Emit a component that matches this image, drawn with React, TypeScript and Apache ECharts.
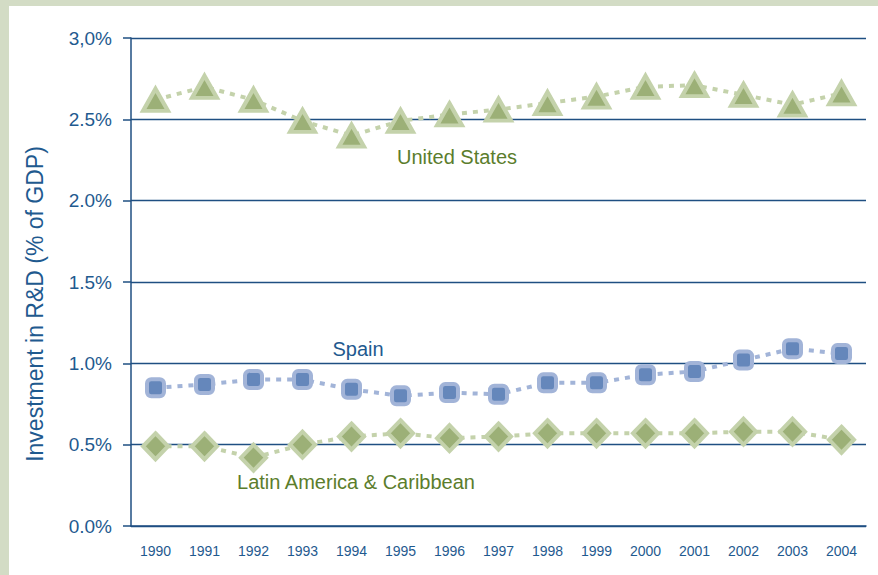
import React, { useEffect, useRef } from "react";
import * as echarts from "echarts";

const years = ["1990","1991","1992","1993","1994","1995","1996","1997","1998","1999","2000","2001","2002","2003","2004"];
const unitedStates = [2.62, 2.70, 2.62, 2.49, 2.40, 2.49, 2.53, 2.56, 2.60, 2.64, 2.70, 2.71, 2.65, 2.59, 2.66];
const spain = [0.85, 0.87, 0.90, 0.90, 0.84, 0.80, 0.82, 0.81, 0.88, 0.88, 0.93, 0.95, 1.02, 1.09, 1.06];
const latinAmerica = [0.49, 0.49, 0.42, 0.50, 0.55, 0.57, 0.54, 0.55, 0.57, 0.57, 0.57, 0.57, 0.58, 0.58, 0.53];
const yTickLabels: Record<string, string> = { "0": "0.0%", "0.5": "0.5%", "1": "1.0%", "1.5": "1.5%", "2": "2.0%", "2.5": "2.5%", "3": "3,0%" };
const yAxisTitle = "Investment in R&D (% of GDP)";

const axisBlue = "#1f4f82";
const textBlue = "#1f5a8f";
const greenText = "#5b7d2c";

export default function App() {
  const ref = useRef<HTMLDivElement>(null);
  useEffect(() => {
    const chart = echarts.init(ref.current!, undefined, { renderer: "svg" });
    const font = "'Liberation Sans', Arial, sans-serif";
    chart.setOption({
      animation: false,
      backgroundColor: "#ffffff",
      textStyle: { fontFamily: font },
      grid: { left: 131, right: 12, top: 38, bottom: 49 },
      graphic: [
        { type: "rect", left: 0, top: 0, shape: { width: 9, height: 575 }, style: { fill: "#d3dcc5" }, silent: true },
        { type: "rect", left: 0, top: 0, shape: { width: 878, height: 6 }, style: { fill: "#d3dcc5" }, silent: true },
        { type: "text", x: 35, y: 304, rotation: Math.PI / 2, style: { text: yAxisTitle, fill: textBlue, font: `23px ${font}`, textAlign: "center", textVerticalAlign: "middle" } },
        { type: "text", x: 457, y: 157, style: { text: "United States", fill: greenText, font: `20px ${font}`, textAlign: "center", textVerticalAlign: "middle" } },
        { type: "text", x: 358, y: 349, style: { text: "Spain", fill: textBlue, font: `20px ${font}`, textAlign: "center", textVerticalAlign: "middle" } },
        { type: "text", x: 356, y: 482, style: { text: "Latin America & Caribbean", fill: greenText, font: `20px ${font}`, textAlign: "center", textVerticalAlign: "middle" } },
      ],
      xAxis: {
        type: "category",
        data: years,
        boundaryGap: true,
        axisLine: { lineStyle: { color: axisBlue, width: 1.5 } },
        axisTick: { length: 7, lineStyle: { color: axisBlue, width: 1.5 } },
        axisLabel: { color: textBlue, fontSize: 14, margin: 18, fontFamily: font },
        splitLine: { show: false },
      },
      yAxis: {
        type: "value",
        min: 0,
        max: 3,
        interval: 0.5,
        axisLine: { show: true, lineStyle: { color: axisBlue, width: 1.5 } },
        axisTick: { show: true, length: 8, lineStyle: { color: axisBlue, width: 1.5 } },
        axisLabel: { color: textBlue, fontSize: 19, margin: 19, fontFamily: font, formatter: (v: number) => yTickLabels[String(v)] ?? v.toFixed(1) + "%" },
        splitLine: { show: true, lineStyle: { color: axisBlue, width: 1.3 } },
      },
      series: [
        {
          name: "United States",
          type: "line",
          data: unitedStates,
          symbol: "triangle",
          symbolSize: [25, 22],
          lineStyle: { color: "#c4d2ab", width: 4, type: [5, 6] },
          itemStyle: { color: "#9cb077", borderColor: "#c4d2ab", borderWidth: 4 },
        },
        {
          name: "Spain",
          type: "line",
          data: spain,
          symbol: "roundRect",
          symbolSize: 17,
          lineStyle: { color: "#a2b4d8", width: 4, type: [5, 6] },
          itemStyle: { color: "#6587bb", borderColor: "#a2b4d8", borderWidth: 4 },
        },
        {
          name: "Latin America & Caribbean",
          type: "line",
          data: latinAmerica,
          symbol: "diamond",
          symbolSize: [25, 26],
          lineStyle: { color: "#c4d2ab", width: 4, type: [5, 6] },
          itemStyle: { color: "#9cb077", borderColor: "#c4d2ab", borderWidth: 4 },
        },
      ],
    });
    return () => chart.dispose();
  }, []);
  return <div ref={ref} style={{ position: "absolute", left: 0, top: 0, width: 878, height: 575 }} />;
}
